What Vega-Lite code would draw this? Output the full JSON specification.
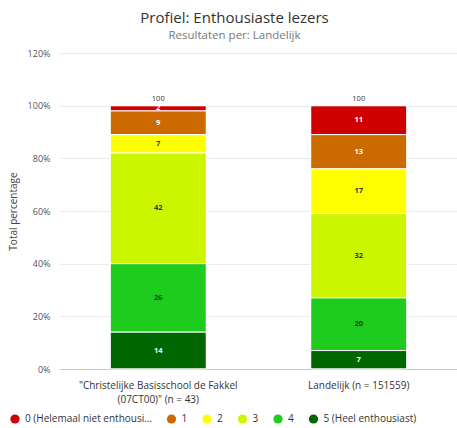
{
  "$schema": "https://vega.github.io/schema/vega-lite/v6.json",
  "width": 397,
  "height": 316,
  "autosize": "none",
  "padding": {"left": 60, "top": 53, "right": 0, "bottom": 59},
  "background": "white",
  "config": {
    "font": "Open Sans",
    "view": {"stroke": null}
  },
  "title": {
    "text": "Profiel: Enthousiaste lezers",
    "subtitle": "Resultaten per: Landelijk",
    "fontSize": 15,
    "fontWeight": "normal",
    "color": "#333333",
    "subtitleFontSize": 11.5,
    "subtitleColor": "#777777",
    "subtitlePadding": 4,
    "anchor": "middle",
    "dx": -24,
    "offset": 8
  },
  "data": {
    "values": [
      {"group": "School", "cat": "0 (Helemaal niet enthousiast)", "v": 2},
      {"group": "School", "cat": "1", "v": 9},
      {"group": "School", "cat": "2", "v": 7},
      {"group": "School", "cat": "3", "v": 42},
      {"group": "School", "cat": "4", "v": 26},
      {"group": "School", "cat": "5 (Heel enthousiast)", "v": 14},
      {"group": "Landelijk (n = 151559)", "cat": "0 (Helemaal niet enthousiast)", "v": 11},
      {"group": "Landelijk (n = 151559)", "cat": "1", "v": 13},
      {"group": "Landelijk (n = 151559)", "cat": "2", "v": 17},
      {"group": "Landelijk (n = 151559)", "cat": "3", "v": 32},
      {"group": "Landelijk (n = 151559)", "cat": "4", "v": 20},
      {"group": "Landelijk (n = 151559)", "cat": "5 (Heel enthousiast)", "v": 7}
    ]
  },
  "encoding": {
    "x": {
      "field": "group",
      "type": "nominal",
      "sort": null,
      "scale": {"paddingInner": 0.52, "paddingOuter": 0.25},
      "axis": {
        "title": null,
        "labelAngle": 0,
        "labelFontSize": 10,
        "labelColor": "#333333",
        "labelPadding": 11,
        "labelLineHeight": 14,
        "labelExpr": "datum.value == 'School' ? ['\"Christelijke Basisschool de Fakkel', '(07CT00)\" (n = 43)'] : datum.value",
        "ticks": false,
        "domainColor": "#c8c8c8",
        "domainWidth": 1,
        "grid": false
      }
    }
  },
  "layer": [
    {
      "mark": {"type": "bar", "stroke": "white", "strokeWidth": 1, "cornerRadius": 1},
      "encoding": {
        "y": {
          "field": "v",
          "type": "quantitative",
          "stack": "zero",
          "scale": {"domain": [0, 120]},
          "axis": {
            "title": "Total percentage",
            "titleFontSize": 10,
            "titleFontWeight": "normal",
            "titleColor": "#444444",
            "titlePadding": 9,
            "values": [0, 20, 40, 60, 80, 100, 120],
            "labelExpr": "datum.value + '%'",
            "labelFontSize": 9,
            "labelColor": "#555555",
            "labelPadding": 10,
            "ticks": false,
            "domain": false,
            "gridColor": "#e9e9e9"
          }
        },
        "order": {"field": "cat", "sort": "descending"},
        "color": {
          "field": "cat",
          "type": "nominal",
          "scale": {
            "domain": ["0 (Helemaal niet enthousiast)", "1", "2", "3", "4", "5 (Heel enthousiast)"],
            "range": ["#d00000", "#cc6a00", "#ffff00", "#ccf500", "#1ecc1e", "#006600"]
          },
          "legend": {
            "title": null,
            "orient": "none",
            "direction": "horizontal",
            "legendX": -50,
            "legendY": 361,
            "symbolType": "circle",
            "symbolSize": 85,
            "symbolStrokeWidth": 0,
            "labelFontSize": 10,
            "labelColor": "#333333",
            "labelLimit": 127,
            "columnPadding": 14.5,
            "labelOffset": 5
          }
        }
      }
    },
    {
      "transform": [
        {"stack": "v", "groupby": ["group"], "sort": [{"field": "cat", "order": "descending"}], "as": ["lo", "hi"]},
        {"calculate": "(datum.lo + datum.hi) / 2", "as": "mid"}
      ],
      "mark": {"type": "text", "fontSize": 7.5, "fontWeight": "bold"},
      "encoding": {
        "y": {"field": "mid", "type": "quantitative"},
        "text": {"field": "v", "type": "quantitative"},
        "color": {
          "condition": {"test": "datum.cat == '2' || datum.cat == '3' || datum.cat == '4'", "value": "#333333"},
          "value": "#ffffff"
        }
      }
    },
    {
      "transform": [
        {"aggregate": [{"op": "sum", "field": "v", "as": "total"}], "groupby": ["group"]}
      ],
      "mark": {"type": "text", "fontSize": 7.5, "color": "#333333", "dy": -7},
      "encoding": {
        "y": {"field": "total", "type": "quantitative"},
        "text": {"field": "total", "type": "quantitative"}
      }
    }
  ]
}
